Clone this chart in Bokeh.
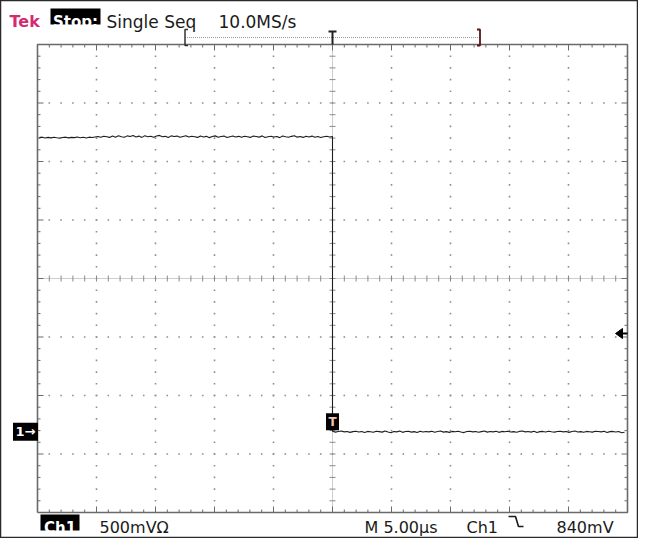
import numpy as np
from bokeh.plotting import figure
from bokeh.models import Range1d
from bokeh.core.properties import value
from bokeh.embed import file_html
from bokeh.resources import INLINE

# ---- scope settings / data ----
TIME_PER_DIV_US = 5.0
VOLTS_PER_DIV = 0.5
HIGH_LEVEL_V = 2.52
LOW_LEVEL_V = 0.0
TRIGGER_LEVEL_V = 0.84
GROUND_POS_DIV = -2.62
TRACE_START_US = -24.85
TRACE_END_US = 24.75
RECORD_HALF_US = 12.5

header_labels = ["Tek", "Stop:", "Single Seq", "10.0MS/s"]
footer_labels = ["Ch1", "500mV\u03a9", "M 5.00\u00b5s", "Ch1", "840mV"]

hi_noise_mV = [
    -6, -2, -9, -4, -8, -3, -7, -10, -5, -2,
    -8, -4, -6, -1, -7, -3, -9, -2, -5, 0,
    4, -3, 6, 1, -4, 8, -2, 10, 2, -3,
    9, 3, 12, -1, 7, -4, 11, 2, 6, -2,
    8, 13, 1, 5, -5, 9, 3, 7, -3, 4,
    10, -1, 6, 2, -4, 8, 0, 5, -6, 3,
    9, -2, 4, 7, -5, 2, 8, -1, 5, -3,
    6, 1, -4, 7, 3, -2, 9, -5, 2, 6,
    -1, 4, -6, 8, 1, -3, 5, 10, -2, 3,
    -4, 6, 0, 7, -3, 4, -5, 2, 6, -1,
    3]
lo_noise_mV = [
    4, -3, 2, 6, -1, 3, -5, 1, 5, -2,
    2, -6, 3, 0, -4, 5, 1, -3, 7, -2,
    -8, 3, -1, 6, -5, 2, 4, -3, 1, -6,
    5, -2, 3, -1, 4, -4, 2, 6, -3, 1,
    -5, 3, 0, 5, -2, -7, 2, 4, -1, 3,
    -4, 1, 6, -3, 2, -1, 4, -5, 3, 0,
    5, -2, 1, -4, 3, 6, -1, 2, -3, 4,
    -6, 1, 3, -2, 5, 0, -3, 2, 4, -1,
    3, -5, 2, 6, -2, 1, -4, 3, 0, -3,
    5, 2, -1, 4, -6, 1, 3, -2, 2, -8,
    -4]

# ---- geometry (figure pixels) ----
W, H = 638, 538
OX = 8
GRAT_L, GRAT_R = 37, 627
GRAT_T, GRAT_B = 44, 512
PX_PER_US = (GRAT_R - GRAT_L) / (10 * TIME_PER_DIV_US)
PX_PER_V = (GRAT_B - GRAT_T) / (8 * VOLTS_PER_DIV)


def x_of_div(d):
    return -25.0 + d * TIME_PER_DIV_US


def y_of_div(d):
    return (d - GROUND_POS_DIV) * VOLTS_PER_DIV


x0 = x_of_div(0) - GRAT_L / PX_PER_US
x1 = x_of_div(10) + (W - GRAT_R) / PX_PER_US
y1 = y_of_div(4) + GRAT_T / PX_PER_V
y0 = y_of_div(-4) - (H - GRAT_B) / PX_PER_V


def px_x(px):  # reference px -> data
    return x0 + (px - OX) / PX_PER_US


def fy(fpx):  # figure px (from top) -> data
    return y1 - fpx / PX_PER_V


def dx(n):
    return n / PX_PER_US


def dy(n):
    return n / PX_PER_V


p = figure(width=W, height=H, x_range=Range1d(x0, x1), y_range=Range1d(y0, y1),
           output_backend="svg", toolbar_location=None, min_border=0,
           x_axis_location=None, y_axis_location=None)
p.grid.visible = False
p.outline_line_color = "#2a2a2a"
p.outline_line_width = 1.5
p.background_fill_color = "white"
p.border_fill_color = "white"

GRID_C = "#8e8e8e"
xl, xr = x_of_div(0), x_of_div(10)
yb, yt = y_of_div(-4), y_of_div(4)
xc, yc = x_of_div(5), y_of_div(0)

# dotted grid
sub = np.arange(1, 50) / 5.0
gx, gy = [], []
for d in [-3, -2, -1, 1, 2, 3]:
    for s in sub:
        gx.append(x_of_div(s)); gy.append(y_of_div(d))
subv = np.arange(1, 40) / 5.0 - 4
for d in [1, 2, 3, 4, 6, 7, 8, 9]:
    for s in subv:
        gx.append(x_of_div(d)); gy.append(y_of_div(s))
p.rect(gx, gy, width=1.6, height=1.6, width_units="screen", height_units="screen",
       fill_color=GRID_C, line_color=None)

# center crosshair
p.line([xl, xr], [yc, yc], line_color="#9a9a9a", line_dash="1 1", line_width=1)
p.line([xc, xc], [yb, yt], line_color="#9a9a9a", line_dash="1 1", line_width=1)
tx = [x_of_div(s) for s in sub]
p.segment(tx, [yc - dy(3)] * len(tx), tx, [yc + dy(3)] * len(tx), line_color="#8a8a8a", line_width=1)
ty = [y_of_div(s) for s in subv]
p.segment([xc - dx(3)] * len(ty), ty, [xc + dx(3)] * len(ty), ty, line_color="#8a8a8a", line_width=1)

# border + border ticks
BC = "#6a6a6a"
p.line([xl, xr, xr, xl, xl], [yb, yb, yt, yt, yb], line_color=BC, line_width=1.6)
for s in sub:
    L = 6 if abs(s - round(s)) < 1e-9 else 3
    x = x_of_div(s)
    p.segment([x, x], [yt, yb], [x, x], [yt - dy(L), yb + dy(L)], line_color=BC, line_width=1)
for s in subv:
    L = 6 if abs(s - round(s)) < 1e-9 else 3
    y = y_of_div(s)
    p.segment([xl, xr], [y, y], [xl + dx(L), xr - dx(L)], [y, y], line_color=BC, line_width=1)

# trace
t_hi = np.linspace(TRACE_START_US, 0.0, len(hi_noise_mV))
t_lo = np.linspace(0.0, TRACE_END_US, len(lo_noise_mV))
v_hi = HIGH_LEVEL_V + np.array(hi_noise_mV) / 1000.0
v_lo = LOW_LEVEL_V + np.array(lo_noise_mV) / 1000.0
t = np.concatenate([t_hi, t_lo])
v = np.concatenate([v_hi, v_lo])
p.line(t, v, line_color="#1e1e1e", line_width=1.1)

FONT = value("DejaVu Sans")

# trigger-point marker on trace
p.rect([0.0], [LOW_LEVEL_V + dy(10)], width=13, height=17, width_units="screen",
       height_units="screen", fill_color="black", line_color=None)
p.text([0.0], [LOW_LEVEL_V + dy(10)], text=["T"], text_color="#f2c6b4",
       text_font=FONT, text_font_size="12px", text_font_style="bold",
       text_align="center", text_baseline="middle")

# ground marker "1->"
gxm = px_x(33)
p.rect([gxm], [LOW_LEVEL_V], width=25, height=18, width_units="screen",
       height_units="screen", fill_color="black", line_color=None)
p.text([gxm], [LOW_LEVEL_V], text=["1\u2192"], text_color="white",
       text_font=FONT, text_font_size="13px", text_font_style="bold",
       text_align="center", text_baseline="middle")

# trigger level arrow at right edge
tipx = xr - dx(12)
p.patch([tipx, tipx + dx(7), tipx + dx(7)],
        [TRIGGER_LEVEL_V, TRIGGER_LEVEL_V + dy(5), TRIGGER_LEVEL_V - dy(5)],
        fill_color="black", line_color="black")
p.line([tipx + dx(6), xr], [TRIGGER_LEVEL_V, TRIGGER_LEVEL_V], line_color="black", line_width=2)

# record bracket at top
by = fy(37)
btop, bbot = fy(29), fy(45)
bl, br = -RECORD_HALF_US, RECORD_HALF_US
p.line([bl, br], [by, by], line_color="#9a9a9a", line_dash="1 1", line_width=1)
p.line([bl + dx(3), bl, bl, bl + dx(3)], [btop, btop, bbot, bbot], line_color="#333333", line_width=1.5)
p.line([br - dx(3), br, br, br - dx(3)], [btop, btop, bbot, bbot], line_color="#5a1414", line_width=1.8)
p.line([0, 0], [fy(31), fy(44)], line_color="#222222", line_width=2)
p.line([-dx(4), dx(4)], [fy(31), fy(31)], line_color="#222222", line_width=2)

# header
base_t = fy(21)
p.text([px_x(17)], [base_t], text=[header_labels[0]], text_color="#d42a72", text_font=FONT,
       text_font_size="16px", text_font_style="bold", text_baseline="alphabetic")
p.rect([px_x(83)], [fy(16)], width=50, height=16, width_units="screen", height_units="screen",
       fill_color="black", line_color=None)
p.text([px_x(83)], [fy(21)], text=[header_labels[1]], text_color="white", text_font=FONT,
       text_font_size="15px", text_font_style="bold", text_align="center", text_baseline="alphabetic")
p.text([px_x(114)], [base_t], text=[header_labels[2]], text_color="#1a1a1a", text_font=FONT,
       text_font_size="17px", text_baseline="alphabetic")
p.text([px_x(226)], [base_t], text=[header_labels[3]], text_color="#1a1a1a", text_font=FONT,
       text_font_size="17px", text_baseline="alphabetic")

# footer
base_b = fy(527)
p.rect([px_x(67.5)], [fy(522)], width=39, height=16, width_units="screen", height_units="screen",
       fill_color="black", line_color=None)
p.text([px_x(67.5)], [base_b], text=[footer_labels[0]], text_color="white", text_font=FONT,
       text_font_size="15px", text_font_style="bold", text_align="center", text_baseline="alphabetic")
p.text([px_x(107)], [base_b], text=[footer_labels[1]], text_color="#1a1a1a", text_font=FONT,
       text_font_size="16px", text_baseline="alphabetic")
p.text([px_x(372)], [base_b], text=[footer_labels[2]], text_color="#1a1a1a", text_font=FONT,
       text_font_size="16px", text_baseline="alphabetic")
p.text([px_x(474)], [base_b], text=[footer_labels[3]], text_color="#1a1a1a", text_font=FONT,
       text_font_size="16px", text_baseline="alphabetic")
p.text([px_x(564)], [base_b], text=[footer_labels[4]], text_color="#1a1a1a", text_font=FONT,
       text_font_size="16px", text_baseline="alphabetic")
# falling-edge symbol
p.line([px_x(516), px_x(523), px_x(526), px_x(531)],
       [fy(516), fy(516), fy(526), fy(526)], line_color="#1a1a1a", line_width=1.6)

open("out.html", "w").write(file_html(p, INLINE))
